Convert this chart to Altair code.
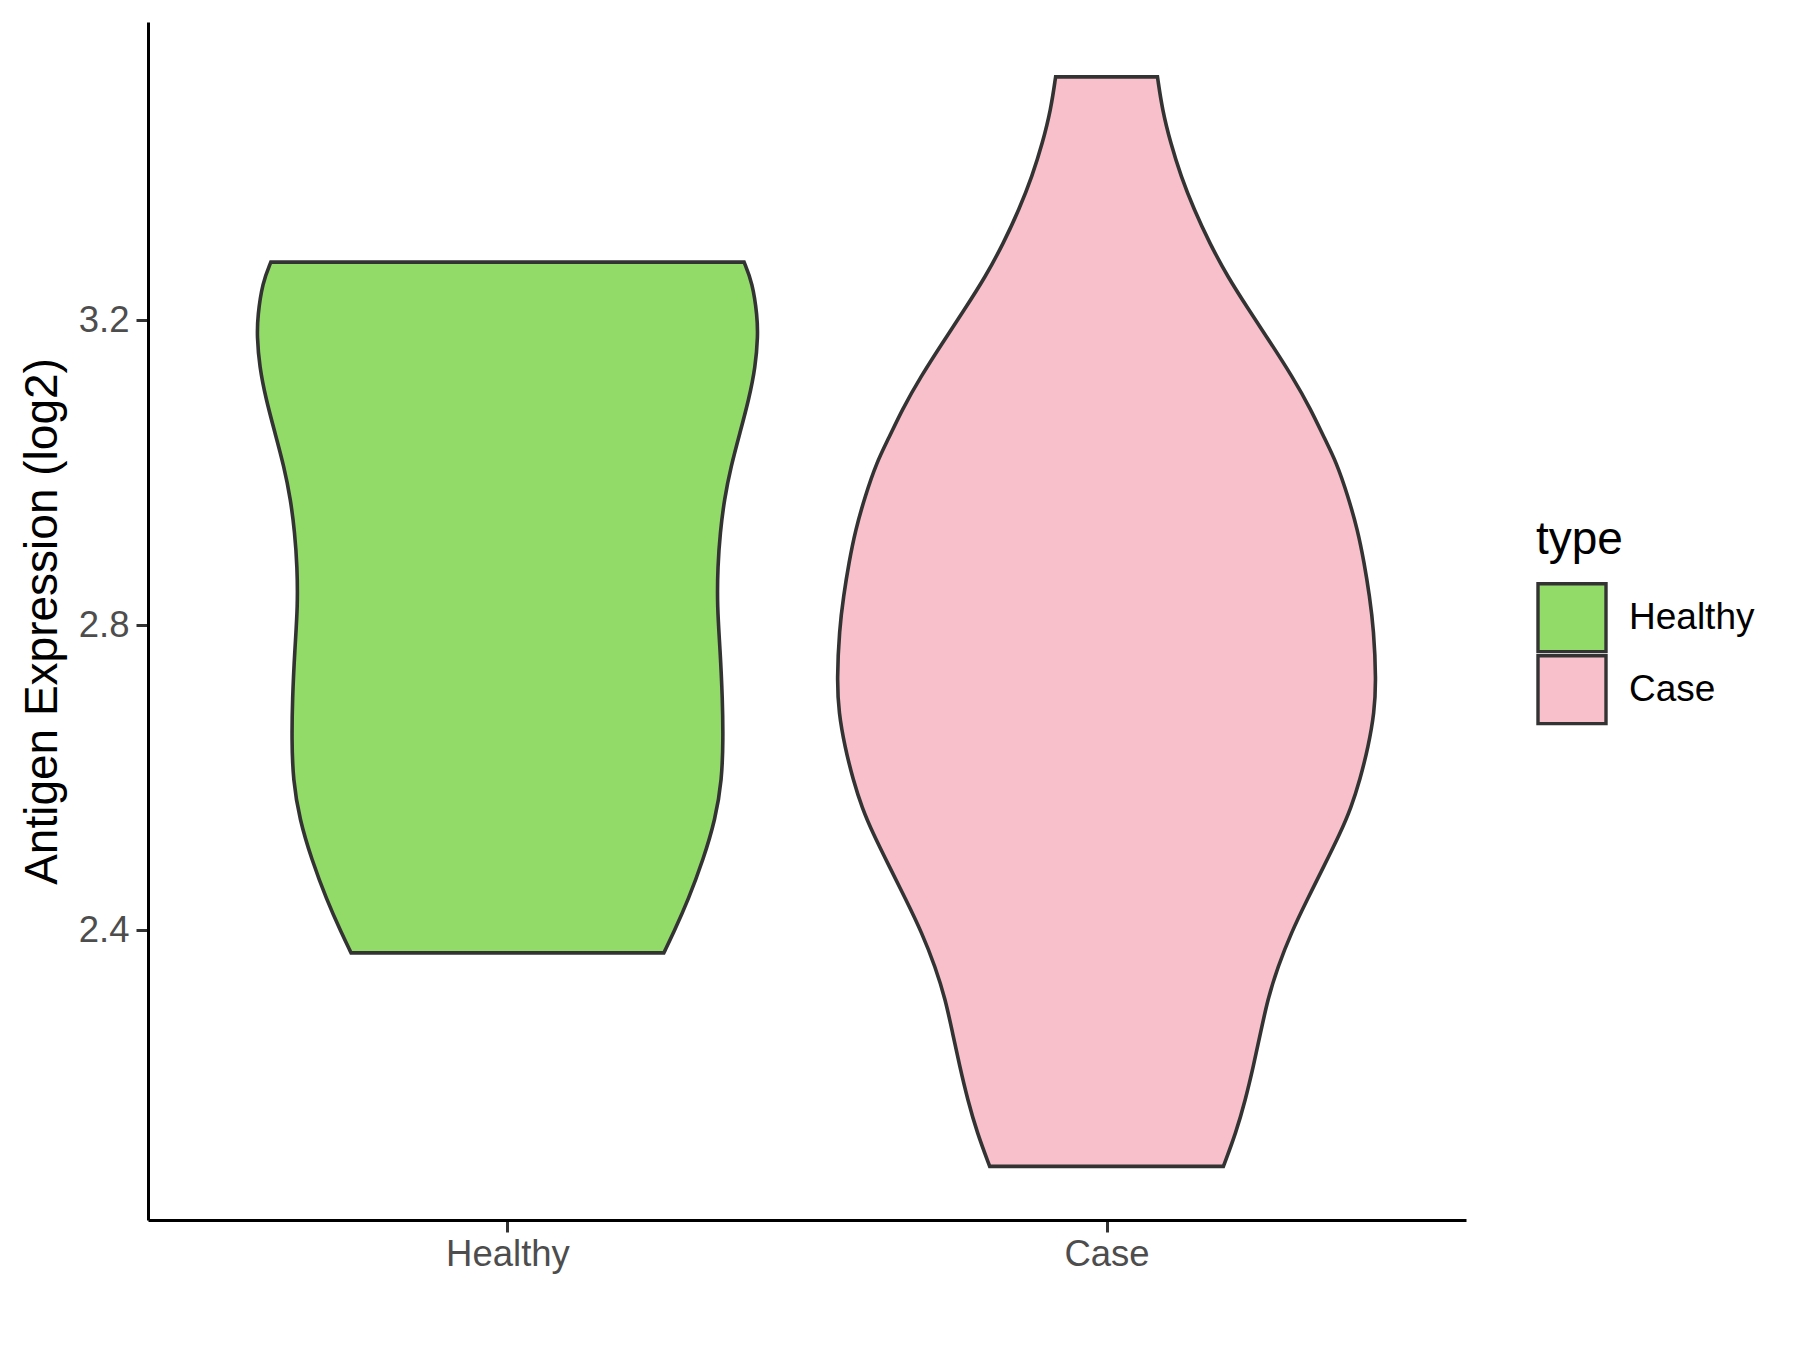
import altair as alt
import pandas as pd

categories = ["Healthy", "Case"]
colors = ["#93DB69", "#F8C0CB"]

# Healthy violin outline: expression value and half-width (in category units)
healthy_vals = [3.276, 3.249, 3.205, 3.179, 3.139, 3.096, 3.052, 3.008, 2.965, 2.921, 2.877, 2.825,
                2.768, 2.702, 2.650, 2.597, 2.545, 2.493, 2.440, 2.396, 2.370]
healthy_hw = [0.395, 0.409, 0.417, 0.418, 0.414, 0.403, 0.388, 0.373, 0.362, 0.355, 0.351, 0.350,
              0.355, 0.359, 0.360, 0.358, 0.347, 0.327, 0.302, 0.277, 0.261]

# Case violin outline
case_vals = [3.519, 3.476, 3.432, 3.389, 3.345, 3.301, 3.257, 3.214, 3.170, 3.126, 3.083, 3.046,
             3.013, 2.969, 2.925, 2.882, 2.838, 2.794, 2.728, 2.685, 2.641, 2.597, 2.560, 2.527,
             2.484, 2.440, 2.396, 2.352, 2.309, 2.265, 2.221, 2.178, 2.134, 2.090]
case_hw = [0.085, 0.093, 0.107, 0.124, 0.146, 0.172, 0.202, 0.237, 0.274, 0.310, 0.341, 0.363,
           0.384, 0.403, 0.419, 0.430, 0.439, 0.446, 0.450, 0.447, 0.437, 0.423, 0.408, 0.390,
           0.363, 0.335, 0.308, 0.286, 0.269, 0.257, 0.245, 0.232, 0.216, 0.195]

y_ticks = [2.4, 2.8, 3.2]

rows = []
for i, (name, vals, hws) in enumerate([("Healthy", healthy_vals, healthy_hw), ("Case", case_vals, case_hw)]):
    pos = i + 1
    for v, h in zip(vals, hws):
        rows.append({"type": name, "pos": pos, "value": v, "lo": pos - h, "hi": pos + h})
df = pd.DataFrame(rows)

font = "Liberation Sans"

chart = alt.Chart(df).mark_area(
    orient="horizontal", interpolate="basis", stroke="#333333", strokeWidth=3.6, opacity=1
).encode(
    y=alt.Y("value:Q", scale=alt.Scale(domain=[2.0197, 3.591], nice=False, zero=False),
            axis=alt.Axis(values=y_ticks, format=".1f", title="Antigen Expression (log2)",
                          grid=False, labelFontSize=36.5, labelColor="#4D4D4D", labelFont=font,
                          titleFontSize=46, titleFont=font, titleColor="black", titleFontWeight="normal",
                          titlePadding=12, tickSize=12, tickWidth=3, tickColor="#333333",
                          domainColor="black", domainWidth=3, labelPadding=7)),
    x=alt.X("lo:Q", scale=alt.Scale(domain=[0.4, 2.6], nice=False, zero=False),
            axis=alt.Axis(values=[1, 2], labelExpr="datum.value == 1 ? 'Healthy' : 'Case'",
                          title=None, grid=False, labelFontSize=36.5, labelColor="#4D4D4D", labelFont=font,
                          tickSize=12, tickWidth=3, tickColor="#333333",
                          domainColor="black", domainWidth=3, labelPadding=4)),
    x2="hi:Q",
    detail="type:N",
    color=alt.Color("type:N", scale=alt.Scale(domain=categories, range=colors),
                    legend=alt.Legend(title="type", orient="none", legendX=1388, legendY=496,
                                      symbolType="square", symbolSize=4624, symbolStrokeColor="#333333",
                                      symbolStrokeWidth=3.4, symbolOpacity=1,
                                      titleFontSize=46, titleFont=font, titleFontWeight="normal",
                                      titleColor="black", titlePadding=18,
                                      labelFontSize=37, labelFont=font, labelColor="black",
                                      labelOffset=21, rowPadding=0, clipHeight=71.5, padding=0)),
).properties(
    width=1318, height=1198,
    background="white",
    autosize=alt.AutoSizeParams(type="none"),
    padding={"left": 140, "top": 14, "right": 320, "bottom": 110},
).configure_view(strokeWidth=0, stroke="transparent")

chart.save("out.html", embed_options={"renderer": "svg", "actions": False})
